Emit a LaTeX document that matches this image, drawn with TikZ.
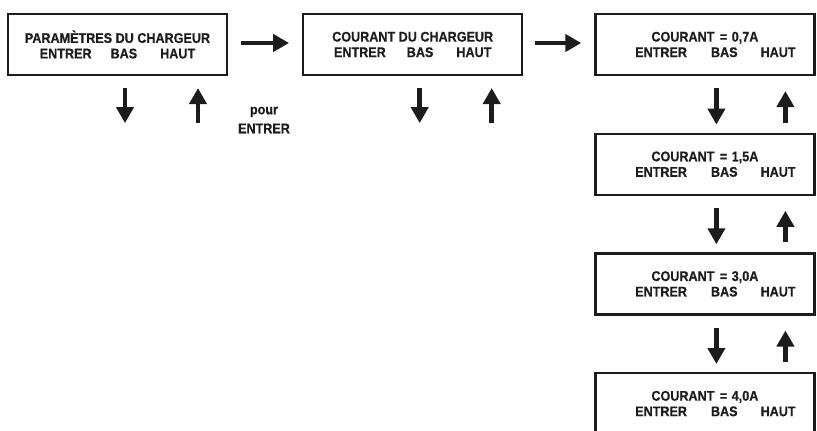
\documentclass[tikz,border=0pt]{standalone}
\usepackage{fontspec}
\setmainfont{Liberation Sans}[FakeStretch=0.9, FakeBold=0.5]
\usetikzlibrary{arrows.meta, positioning}
\definecolor{encre}{RGB}{28,28,28}

\begin{document}
\begin{tikzpicture}[x=1pt, y=-1pt,
  ecran/.style={draw=encre, line width=2.2pt, minimum width=219pt, minimum height=61pt,
    inner sep=0pt, align=center, text=encre, font=\fontsize{14}{15.5}\selectfont\bfseries},
  fleche/.style={draw=encre, line width=4.5pt, -{Triangle[width=17pt, length=16pt]}},
  note/.style={text=encre, align=center, font=\fontsize{14}{19}\selectfont\bfseries}]
  \useasboundingbox (0,0) rectangle (817,431);

  % écrans du menu
  \node[ecran] (b1) at (117.5,44.5)
    {PARAMÈTRES DU CHARGEUR\\ENTRER\hspace{19pt}BAS\hspace{23pt}HAUT};
  \node[ecran, right=74pt of b1] (b2)
    {COURANT DU CHARGEUR\\ENTRER\hspace{21pt}BAS\hspace{23pt}HAUT};
  \node[ecran, right=71pt of b2] (b3)
    {COURANT\hspace{2pt} = \hspace{1pt}0,7A\\\hspace*{21pt}ENTRER\hspace{24pt}BAS\hspace{23pt}HAUT};
  \node[ecran, below=56.5pt of b3] (b4)
    {COURANT\hspace{2pt} = \hspace{1pt}1,5A\\\hspace*{21pt}ENTRER\hspace{24pt}BAS\hspace{23pt}HAUT};
  \node[ecran, below=56.5pt of b4] (b5)
    {COURANT\hspace{2pt} = \hspace{1pt}3,0A\\\hspace*{21pt}ENTRER\hspace{24pt}BAS\hspace{23pt}HAUT};
  \node[ecran, below=56.5pt of b5] (b6)
    {COURANT\hspace{2pt} = \hspace{1pt}4,0A\\\hspace*{21pt}ENTRER\hspace{24pt}BAS\hspace{23pt}HAUT};

  % passage à l'écran suivant
  \draw[fleche] ([xshift=13pt, yshift=1.5pt]b1.east) -- ([xshift=-13pt, yshift=1.5pt]b2.west);
  \draw[fleche] ([xshift=12pt, yshift=1.5pt]b2.east) -- ([xshift=-13pt, yshift=1.5pt]b3.west);

  % touches BAS / HAUT sous les deux premiers écrans
  \coordinate (b1bas) at ([xshift=7.5pt, yshift=-47pt]b1.south);
  \coordinate (b1haut) at ([xshift=80.5pt, yshift=-47pt]b1.south);
  \coordinate (b2bas) at ([xshift=7pt, yshift=-47pt]b2.south);
  \coordinate (b2haut) at ([xshift=79pt, yshift=-47pt]b2.south);
  \draw[fleche] ([xshift=7.5pt, yshift=-12pt]b1.south) -- (b1bas);
  \draw[fleche] (b1haut) -- ([xshift=80.5pt, yshift=-12pt]b1.south);
  \draw[fleche] ([xshift=7pt, yshift=-12pt]b2.south) -- (b2bas);
  \draw[fleche] (b2haut) -- ([xshift=79pt, yshift=-12pt]b2.south);

  \node[note] (pour) at (264,120) {pour\\ENTRER};

  % colonne des intensités
  \foreach \haut/\bas in {b3/b4, b4/b5, b5/b6} {
    \draw[fleche] ([xshift=11.5pt, yshift=-12pt]\haut.south) -- ([xshift=11.5pt, yshift=8pt]\bas.north);
    \draw[fleche] ([xshift=80.5pt, yshift=10pt]\bas.north) -- ([xshift=80.5pt, yshift=-15pt]\haut.south);
  }
\end{tikzpicture}
\end{document}
